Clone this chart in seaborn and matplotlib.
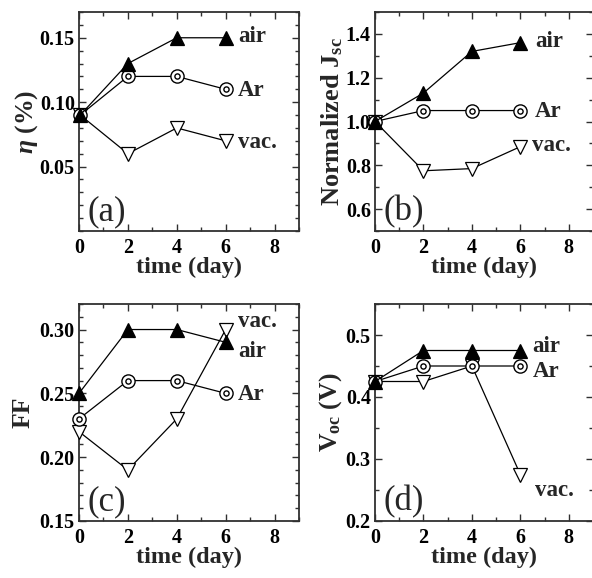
import matplotlib
matplotlib.use("Agg")
import matplotlib.pyplot as plt
import seaborn as sns
import pandas as pd
from matplotlib.ticker import FixedLocator, MultipleLocator

sns.set_theme(style="ticks")
plt.rcParams['font.family'] = ['Liberation Serif', 'DejaVu Serif']
plt.rcParams['font.weight'] = 'bold'
plt.rcParams['mathtext.fontset'] = 'custom'
plt.rcParams['mathtext.rm'] = 'Liberation Serif:bold'
plt.rcParams['mathtext.it'] = 'Liberation Serif:italic:bold'
plt.rcParams['mathtext.bf'] = 'Liberation Serif:bold'

# ---- data ----
days = [0, 2, 4, 6]
days_a = [0.05, 2, 4, 6]

eta_air = [0.09, 0.13, 0.15, 0.15]
eta_ar = [0.09, 0.12, 0.12, 0.11]
eta_vac = [0.09, 0.06, 0.08, 0.07]

jsc_air = [1.00, 1.13, 1.32, 1.36]
jsc_ar = [1.00, 1.05, 1.05, 1.05]
jsc_vac = [1.00, 0.775, 0.785, 0.885]

ff_air = [0.25, 0.30, 0.30, 0.29]
ff_ar = [0.23, 0.26, 0.26, 0.25]
ff_vac = [0.22, 0.19, 0.23, 0.30]

voc_air = [0.425, 0.475, 0.475, 0.475]
voc_ar = [0.425, 0.45, 0.45, 0.45]
voc_vac = [0.425, 0.425, 0.45, 0.275]

series_names = ["air", "Ar", "vac."]
panel_tags = ["(a)", "(b)", "(c)", "(d)"]
ylabels = [r"$\eta$ (%)", r"Normalized J$_{\mathrm{sc}}$", "FF", r"V$_{\mathrm{oc}}$ (V)"]
xlabel = "time (day)"

W, H = 592, 578
fig = plt.figure(figsize=(W / 100, H / 100), dpi=100)

def ax_at(l, r, t, b):
    return fig.add_axes([l / W, 1 - b / H, (r - l) / W, (b - t) / H])

axes = [
    ax_at(79, 299, 12, 231),
    ax_at(375, 593, 12, 231),
    ax_at(79, 299, 304, 521),
    ax_at(375, 593, 304, 521),
]

panels = [
    (days_a, eta_air, eta_ar, eta_vac, (0.0, 0.17), [0.05, 0.10, 0.15], 0.01, "{:.2f}",
     [(6.5, 0.151), (6.5, 0.109), (6.5, 0.069)], -0.24, 18.5),
    (days, jsc_air, jsc_ar, jsc_vac, (0.5, 1.5), [0.6, 0.8, 1.0, 1.2, 1.4], 0.1, "{:.1f}",
     [(6.6, 1.365), (6.6, 1.045), (6.5, 0.89)], -0.197, 19),
    (days, ff_air, ff_ar, ff_vac, (0.15, 0.32), [0.15, 0.20, 0.25, 0.30], 0.01, "{:.2f}",
     [(6.5, 0.283), (6.5, 0.249), (6.5, 0.306)], -0.255, 18.5),
    (days, voc_air, voc_ar, voc_vac, (0.2, 0.55), [0.2, 0.3, 0.4, 0.5], 0.05, "{:.1f}",
     [(6.5, 0.481), (6.5, 0.441), (6.6, 0.25)], -0.206, 18.5),
]

frame_col = "#303030"
lw_line = 0.9
ms = 9.5

for i, (ax, p) in enumerate(zip(axes, panels)):
    x, yair, yar, yvac, ylim, yt, ymin_step, fmt, lab_pos, ylab_x, ylab_fs = p
    df_air = pd.DataFrame({"x": x, "y": yair})
    df_ar = pd.DataFrame({"x": x, "y": yar})
    df_vac = pd.DataFrame({"x": x, "y": yvac})

    sns.lineplot(data=df_vac, x="x", y="y", ax=ax, color="black", lw=lw_line,
                 marker="v", markersize=ms, markerfacecolor="white",
                 markeredgecolor="black", markeredgewidth=0.9, clip_on=False,
                 sort=False, estimator=None, zorder=3)
    sns.lineplot(data=df_ar, x="x", y="y", ax=ax, color="black", lw=lw_line,
                 marker="o", markersize=ms, markerfacecolor="white",
                 markeredgecolor="black", markeredgewidth=1.0, clip_on=False,
                 sort=False, estimator=None, zorder=4)
    sns.scatterplot(data=df_ar, x="x", y="y", ax=ax, marker="o", s=14,
                    facecolor="white", edgecolor="black", linewidth=1.0,
                    clip_on=False, zorder=5)
    sns.lineplot(data=df_air, x="x", y="y", ax=ax, color="black", lw=lw_line,
                 marker="^", markersize=ms, markerfacecolor="black",
                 markeredgecolor="black", markeredgewidth=0.9, clip_on=False,
                 sort=False, estimator=None, zorder=6)

    ax.set_xlim(0, 9)
    ax.set_ylim(*ylim)
    ax.xaxis.set_major_locator(FixedLocator([0, 2, 4, 6, 8]))
    ax.xaxis.set_minor_locator(MultipleLocator(1))
    ax.yaxis.set_major_locator(FixedLocator(yt))
    ax.yaxis.set_minor_locator(MultipleLocator(ymin_step))
    ax.set_yticklabels([fmt.format(v) for v in yt])
    ax.set_xticklabels(["0", "2", "4", "6", "8"])
    ax.tick_params(which="both", direction="in", top=True, right=True,
                   color=frame_col, width=1.0, labelsize=14.5, pad=3)
    ax.tick_params(which="major", length=5)
    ax.tick_params(which="minor", length=3)
    ax.tick_params(axis="x", pad=5)
    for s in ax.spines.values():
        s.set_color(frame_col)
        s.set_linewidth(1.3)
        s.set_visible(True)
    for lab in ax.get_xticklabels() + ax.get_yticklabels():
        lab.set_fontweight("bold")
        lab.set_color("black")

    ax.set_xlabel(xlabel, fontsize=17.5, fontweight="bold", va="top")
    ax.xaxis.set_label_coords(0.5, -0.118)
    ax.set_ylabel(ylabels[i], fontsize=ylab_fs, fontweight="bold", va="center")
    ax.yaxis.set_label_coords(ylab_x, 0.5)

    for name, (tx, ty) in zip(series_names, lab_pos):
        ax.text(tx, ty, name, fontsize=16.5, fontweight="bold", ha="left", va="center")

    ax.text(0.04, 0.05, panel_tags[i], transform=ax.transAxes, fontsize=25,
            fontweight="normal", ha="left", va="baseline")
    ax.set_facecolor("white")

fig.savefig("out.png", dpi=100, facecolor="white")
